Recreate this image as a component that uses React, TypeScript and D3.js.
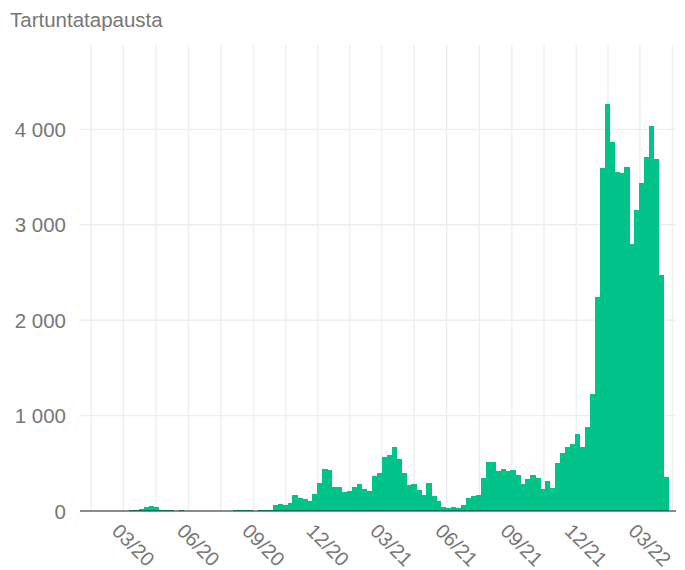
import React from "react";
import * as d3 from "d3";

// weekly case counts, weeks starting on Monday
const firstWeek = new Date(2020, 2, 9);
const cases2020 = [
  10, 10, 25, 42, 53, 42, 10, 10, 10, 2, 10, 2, 1, 1, 1, 3, 1, 1, 2, 2, 2, 10,
  10, 10, 10, 2, 10, 10, 10, 64, 74, 67, 85, 170, 138, 127, 109, 180, 297, 445,
  434, 254, 254,
];
const cases2021 = [
  201, 212, 254, 286, 233, 212, 371, 402, 561, 582, 667, 540, 402, 275, 286,
  222, 170, 297, 159, 106, 42, 32, 42, 32, 64, 138, 159, 170, 350, 509, 509,
  424, 445, 424, 434, 381, 286, 339, 381, 350, 233, 318, 244, 498, 604, 667,
  699, 805, 667, 879, 1228, 2241,
];
const cases2022 = [
  3594, 4266, 3867, 3552, 3542, 3605, 2797, 3154, 3437, 3710, 4035, 3689, 2472,
  360,
];

const yTicks = [0, 1000, 2000, 3000, 4000];
const xTickLabels = ["03/20", "06/20", "09/20", "12/20", "03/21", "06/21", "09/21", "12/21", "03/22"];

const W = 685;
const H = 570;
const left = 80;
const right = 676;
const top = 45;
const bottom = 511;

const fi = d3.formatLocale({ decimal: ",", thousands: "\u00a0", grouping: [3], currency: ["", "€"] });
const fmt = fi.format(",d");

export default function App() {
  const values = [...cases2020, ...cases2021, ...cases2022];
  const weeks = values.map((v, i) => ({ date: d3.timeDay.offset(firstWeek, i * 7), value: v }));

  const x = d3
    .scaleTime()
    .domain([new Date(2019, 11, 30, 18), new Date(2022, 3, 21)])
    .range([left, right]);
  const y = d3.scaleLinear().domain([0, 4885]).range([bottom, top]);

  // quarterly breaks (Mar, Jun, Sep, Dec) with minor lines halfway between
  const allMajor = d3.range(-1, 11).map((i) => d3.timeMonth.offset(new Date(2020, 2, 1), 3 * i));
  const major = allMajor.slice(1, 1 + xTickLabels.length);
  const gridDates: Date[] = [];
  for (let i = 0; i < allMajor.length - 1; i++) {
    const a = allMajor[i].getTime();
    const b = allMajor[i + 1].getTime();
    gridDates.push(new Date((a + b) / 2));
    gridDates.push(allMajor[i + 1]);
  }
  const visibleGrid = gridDates.filter((d) => x(d) >= left && x(d) <= right);

  const font = "'Liberation Sans', Arial, sans-serif";
  const grey = "#777";

  return (
    <svg
      width={W}
      height={H}
      style={{ position: "absolute", left: 0, top: 0, background: "#fff" }}
      fontFamily={font}
    >
      <text x={10} y={27} fontSize={20.5} fill={grey}>
        Tartuntatapausta
      </text>
      {yTicks
        .filter((t) => t > 0)
        .map((t) => (
          <line key={"h" + t} x1={left} x2={right} y1={y(t)} y2={y(t)} stroke="#eeeeee" strokeWidth={1.4} />
        ))}
      {visibleGrid.map((d, i) => (
        <line key={"v" + i} x1={x(d)} x2={x(d)} y1={top} y2={bottom} stroke="#eeeeee" strokeWidth={1.4} />
      ))}
      <g shapeRendering="crispEdges">
        {weeks.map((w, i) => {
          const x0 = x(w.date);
          const x1 = x(d3.timeDay.offset(w.date, 7));
          return (
            <rect
              key={i}
              x={x0}
              y={y(w.value)}
              width={x1 - x0 + 0.4}
              height={bottom - y(w.value)}
              fill="#00c389"
            />
          );
        })}
      </g>
      <line x1={left} x2={right} y1={bottom} y2={bottom} stroke="#1a1a1a" strokeWidth={1.2} />
      {yTicks.map((t) => (
        <text
          key={"yl" + t}
          x={66}
          y={y(t)}
          textAnchor="end"
          dominantBaseline="central"
          fontSize={20.5}
          fill={grey}
        >
          {fmt(t)}
        </text>
      ))}
      {major.map((d, i) => (
        <text
          key={"xl" + i}
          transform={`translate(${x(d) + 10},545) rotate(45)`}
          textAnchor="middle"
          dominantBaseline="central"
          fontSize={20}
          fill={grey}
        >
          {xTickLabels[i]}
        </text>
      ))}
    </svg>
  );
}
